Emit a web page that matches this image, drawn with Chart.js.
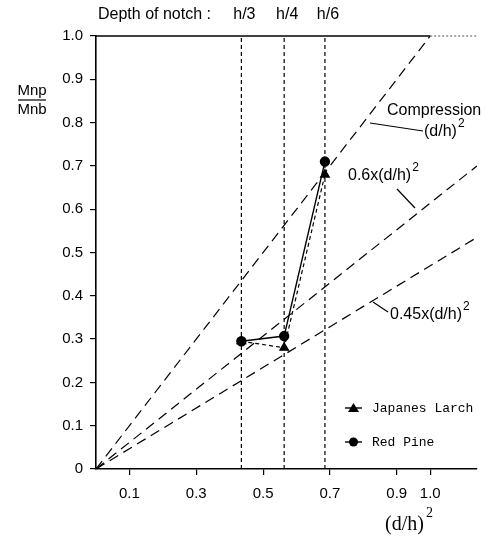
<!DOCTYPE html>
<html>
<head>
<meta charset="utf-8">
<script src="https://cdn.jsdelivr.net/npm/chart.js@4"></script>
<style>
  body { margin: 0; background: #fff; }
  canvas { display: block; }
</style>
</head>
<body>
<canvas id="chart" width="485" height="537"></canvas>
<script>
// notch depths and their (d/h)^2 position
const notchLabels = ["h/3", "h/4", "h/6"];
const notchX = [0.435, 0.563, 0.685];

// measured Mnp/Mnb
const larchY = [0.295, 0.28, 0.68];
const pineY = [0.295, 0.307, 0.71];

// end points of the reference lines (start at origin)
const compressionEnd = [1.0, 1.0];
const sixEnd = [1.14, 0.70];
const fortyFiveEnd = [1.14, 0.535];

const xTicks = [0.1, 0.3, 0.5, 0.7, 0.9, 1.0];
const yTicks = [0, 0.1, 0.2, 0.3, 0.4, 0.5, 0.6, 0.7, 0.8, 0.9, 1.0];

const SANS = '"Liberation Sans", Arial, sans-serif';

function refLine(end) {
  return {
    data: [{x: 0, y: 0}, {x: end[0], y: end[1]}],
    showLine: true, borderColor: "#000", borderWidth: 1.2,
    borderDash: [10, 6], pointRadius: 0, order: 5
  };
}

const datasets = [
  {
    label: "Red Pine",
    data: notchX.map((x, i) => ({x: x, y: pineY[i]})),
    showLine: true, borderColor: "#000", borderWidth: 1.4,
    pointStyle: "circle", pointRadius: 4.5, pointBackgroundColor: "#000",
    pointBorderColor: "#000", order: 1
  },
  {
    label: "Japanes Larch",
    data: notchX.map((x, i) => ({x: x, y: larchY[i]})),
    showLine: true, borderColor: "#000", borderWidth: 1.2, borderDash: [4, 3],
    pointStyle: "triangle", pointRadius: 5, pointBackgroundColor: "#000",
    pointBorderColor: "#000", order: 2
  },
  refLine(compressionEnd),
  refLine(sixEnd),
  refLine(fortyFiveEnd)
];

notchX.forEach(x => {
  datasets.push({
    data: [{x: x, y: 0}, {x: x, y: 1}],
    showLine: true, borderColor: "#000", borderWidth: 1.2,
    borderDash: [4, 3], pointRadius: 0, order: 6
  });
});

function supText(ctx, base, sup, x, y, size) {
  ctx.font = size + "px " + SANS;
  ctx.textAlign = "left";
  ctx.textBaseline = "middle";
  ctx.fillText(base, x, y);
  const w = ctx.measureText(base).width;
  ctx.font = Math.round(size * 0.75) + "px " + SANS;
  ctx.fillText(sup, x + w + 1, y - 8);
}

function line(ctx, x1, y1, x2, y2) {
  ctx.beginPath();
  ctx.moveTo(x1, y1);
  ctx.lineTo(x2, y2);
  ctx.stroke();
}

const extras = {
  id: "extras",
  afterDraw(chart) {
    const ctx = chart.ctx;
    const xs = chart.scales.x;
    const area = chart.chartArea;
    ctx.save();
    ctx.fillStyle = "#000";
    ctx.strokeStyle = "#000";
    ctx.setLineDash([]);

    // top frame line
    ctx.lineWidth = 1.6;
    line(ctx, area.left, area.top, xs.getPixelForValue(1.0), area.top);
    ctx.strokeStyle = "#888";
    ctx.setLineDash([2, 2]);
    line(ctx, xs.getPixelForValue(1.0), area.top, area.right, area.top);
    ctx.setLineDash([]);
    ctx.strokeStyle = "#000";

    // header
    ctx.font = "16px " + SANS;
    ctx.textBaseline = "middle";
    ctx.textAlign = "left";
    ctx.fillText("Depth of notch :", 98, 15);
    ctx.textAlign = "center";
    notchLabels.forEach((t, i) => {
      ctx.fillText(t, xs.getPixelForValue(notchX[i]) + 3, 15);
    });

    // y title as a fraction
    ctx.font = "15px " + SANS;
    ctx.textAlign = "center";
    ctx.fillText("Mnp", 32, 91);
    ctx.lineWidth = 1.2;
    line(ctx, 18, 100, 46, 100);
    ctx.fillText("Mnb", 32, 110);

    // line annotations
    ctx.font = "16px " + SANS;
    ctx.textAlign = "left";
    ctx.fillText("Compression", 387, 111);
    supText(ctx, "(d/h)", "2", 424, 132, 16);
    line(ctx, 370, 123, 423, 131);
    supText(ctx, "0.6x(d/h)", "2", 348, 176, 16);
    line(ctx, 397, 189, 415, 208);
    supText(ctx, "0.45x(d/h)", "2", 390, 315, 16);
    line(ctx, 373, 302, 388, 312);

    // legend
    ctx.lineWidth = 1.4;
    line(ctx, 345, 408, 362, 408);
    line(ctx, 345, 442, 362, 442);
    ctx.beginPath();
    ctx.moveTo(353.5, 403);
    ctx.lineTo(359, 412);
    ctx.lineTo(348, 412);
    ctx.closePath();
    ctx.fill();
    ctx.beginPath();
    ctx.arc(353.5, 442, 4.5, 0, Math.PI * 2);
    ctx.fill();
    ctx.font = '13px "Liberation Mono", "DejaVu Sans Mono", monospace';
    ctx.textAlign = "left";
    ctx.fillText("Japanes Larch", 372, 409);
    ctx.fillText("Red Pine", 372, 443);

    // x title
    ctx.font = '20px "Liberation Serif", "DejaVu Serif", serif';
    ctx.fillText("(d/h)", 385, 525);
    const w = ctx.measureText("(d/h)").width;
    ctx.font = '14px "Liberation Serif", "DejaVu Serif", serif';
    ctx.fillText("2", 385 + w + 2, 513);

    ctx.restore();
  }
};

new Chart(document.getElementById("chart"), {
  type: "scatter",
  data: {datasets: datasets},
  options: {
    responsive: false,
    animation: false,
    devicePixelRatio: 1,
    layout: {padding: {left: 0, right: 8, top: 36, bottom: 0}},
    plugins: {legend: {display: false}, tooltip: {enabled: false}},
    scales: {
      x: {
        type: "linear", min: 0, max: 1.14,
        afterFit: s => { s.height = 68; },
        afterBuildTicks: s => { s.ticks = xTicks.map(v => ({value: v})); },
        border: {display: true, color: "#000", width: 1.6},
        grid: {drawOnChartArea: false, drawTicks: true, tickLength: 6, color: "#000", lineWidth: 1.2},
        ticks: {
          padding: 10, color: "#000", font: {family: SANS, size: 15},
          maxRotation: 0, autoSkip: false,
          callback: v => v.toFixed(1)
        }
      },
      y: {
        type: "linear", min: 0, max: 1,
        afterFit: s => { s.width = 96; },
        afterBuildTicks: s => { s.ticks = yTicks.map(v => ({value: v})); },
        border: {display: true, color: "#000", width: 1.6},
        grid: {drawOnChartArea: false, drawTicks: true, tickLength: 6, color: "#000", lineWidth: 1.2},
        ticks: {
          padding: 7, color: "#000", font: {family: SANS, size: 15},
          autoSkip: false,
          callback: v => v === 0 ? "0" : v.toFixed(1)
        }
      }
    }
  },
  plugins: [extras]
});
</script>
</body>
</html>
